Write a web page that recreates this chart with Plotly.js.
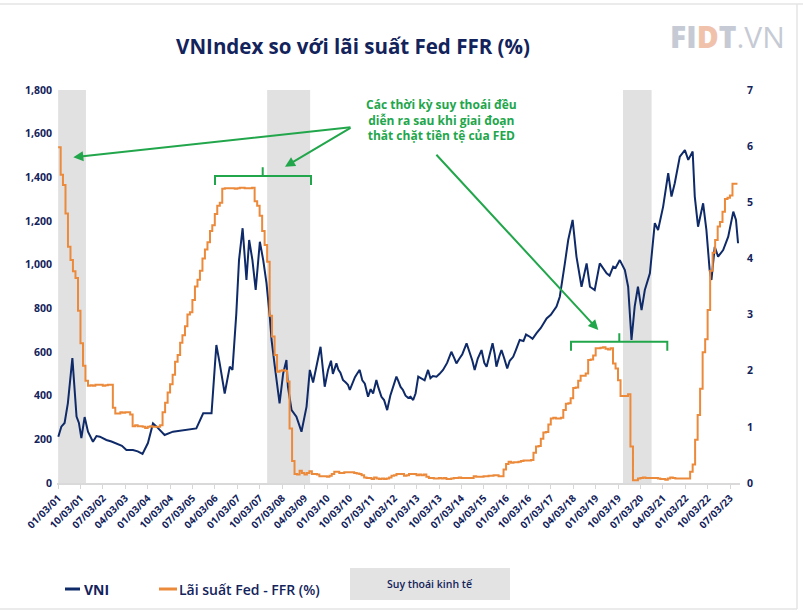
<!DOCTYPE html>
<html>
<head>
<meta charset="utf-8">
<script src="https://cdn.plot.ly/plotly-3.0.1.min.js"></script>
<style>html,body{margin:0;padding:0;background:#fff;}#chart{width:803px;height:613px;}</style>
</head>
<body>
<div id="chart"></div>
<script>
// ---- Data ----
const vniDates = [
'2001-01-03','2001-02-09','2001-03-21','2001-04-30','2001-06-24','2001-07-12','2001-08-14','2001-09-12','2001-10-12','2001-11-21',
'2002-01-01','2002-03-03','2002-04-15','2002-05-26','2002-08-14','2002-10-15','2002-12-16',
'2003-02-20','2003-04-16','2003-07-05','2003-09-01','2003-10-30',
'2004-01-04','2004-03-06','2004-04-19','2004-07-26','2004-11-05',
'2005-03-10','2005-08-18','2005-11-10',
'2006-02-20','2006-04-01','2006-04-20','2006-05-30','2006-07-31','2006-10-01','2006-11-03','2006-12-20',
'2007-01-22','2007-03-07','2007-04-23','2007-05-26','2007-07-05','2007-08-14','2007-10-04','2007-11-14','2007-12-24',
'2008-02-02','2008-02-24','2008-04-04','2008-06-01','2008-07-15','2008-08-24','2008-09-11','2008-10-26','2008-12-24',
'2009-02-24','2009-04-27','2009-06-06','2009-07-16','2009-10-15','2009-12-05',
'2010-01-15','2010-02-20','2010-03-15','2010-04-27','2010-05-20','2010-06-15','2010-07-16','2010-08-20','2010-09-15','2010-10-08','2010-11-10','2010-12-10',
'2011-01-05','2011-02-06','2011-03-10','2011-04-10','2011-05-19','2011-06-20','2011-07-20','2011-08-29','2011-09-20','2011-10-30','2011-12-01',
'2012-01-08','2012-02-15','2012-03-15','2012-04-30','2012-05-20','2012-06-20','2012-07-19','2012-08-20','2012-09-20','2012-10-20','2012-11-21','2012-12-20',
'2013-01-22','2013-03-01','2013-04-10','2013-05-22','2013-06-20','2013-07-20','2013-09-02','2013-10-10','2013-11-21',
'2014-01-10','2014-03-03','2014-04-10','2014-05-04','2014-06-10','2014-07-15','2014-09-05','2014-10-15','2014-11-15','2014-12-13',
'2015-01-20','2015-03-07','2015-04-10','2015-05-08','2015-06-15','2015-07-20','2015-08-15','2015-09-05','2015-10-10','2015-11-06','2015-12-10',
'2016-01-15','2016-02-15','2016-03-28','2016-05-01','2016-06-16','2016-08-01','2016-09-01','2016-10-18','2016-11-20',
'2017-01-08','2017-03-01','2017-05-11','2017-07-01','2017-09-09','2017-10-19','2017-12-20',
'2018-01-30','2018-03-25','2018-05-11','2018-07-12','2018-09-12','2018-10-23','2018-12-20',
'2019-02-20','2019-03-20','2019-05-15','2019-06-20','2019-08-03','2019-09-01','2019-10-23','2019-12-24',
'2020-02-02','2020-03-14','2020-04-22','2020-06-01','2020-07-15','2020-08-24','2020-10-25','2020-12-24',
'2021-02-02','2021-04-05','2021-06-06','2021-07-16','2021-08-25','2021-10-26','2021-12-27',
'2022-02-06','2022-04-01','2022-04-27','2022-06-06','2022-08-07','2022-09-16','2022-10-26','2022-11-17','2022-12-27',
'2023-02-06','2023-04-09','2023-06-10','2023-08-11','2023-09-13','2023-10-08'
];
const vniValues = [
212,258,275,366,572,472,304,275,206,302,
235,189,215,212,197,190,182,
170,151,151,145,133,
183,273,258,220,235,
243,250,319,
319,533,632,550,410,533,518,777,
1021,1167,930,1113,1021,884,1105,1021,915,
762,655,533,365,502,563,441,334,304,
235,350,518,460,624,441,
518,560,500,548,520,505,472,460,450,426,460,485,
500,518,470,455,395,430,410,472,440,395,380,
334,400,430,487,470,440,426,400,390,395,380,410,
487,480,470,518,480,490,487,500,518,
550,601,570,548,570,590,640,600,560,518,
570,609,550,533,590,640,590,533,580,609,570,
525,560,578,610,655,650,680,670,660,
686,710,754,770,808,853,1006,
1113,1205,1037,899,1006,899,884,
1006,990,960,950,991,985,1021,975,
899,655,808,899,792,884,960,1190,
1159,1266,1419,1312,1373,1495,1525,
1480,1518,1312,1174,1281,1159,975,930,1082,
1037,1067,1128,1243,1205,1098
];

// Fed funds rate, monthly, starting January 2001
const ffrStartYear = 2001;
const ffrValues = [
5.98,5.49,5.31,4.80,4.21,3.97,3.77,3.65,3.07,2.49,2.09,1.82,
1.73,1.74,1.73,1.75,1.75,1.75,1.73,1.74,1.75,1.75,1.34,1.24,
1.24,1.26,1.25,1.26,1.26,1.22,1.01,1.03,1.01,1.01,1.00,0.98,
1.00,1.01,1.00,1.00,1.00,1.03,1.26,1.43,1.61,1.76,1.93,2.16,
2.28,2.50,2.63,2.79,3.00,3.04,3.26,3.50,3.62,3.78,4.00,4.16,
4.29,4.49,4.59,4.79,4.94,4.99,5.24,5.25,5.25,5.25,5.25,5.24,
5.25,5.26,5.26,5.25,5.25,5.25,5.26,5.02,4.94,4.76,4.49,4.24,
3.94,2.98,2.61,2.28,1.98,2.00,2.01,2.00,1.81,0.97,0.39,0.16,
0.15,0.22,0.18,0.15,0.18,0.21,0.16,0.16,0.15,0.12,0.12,0.12,
0.11,0.13,0.16,0.20,0.20,0.18,0.18,0.19,0.19,0.19,0.19,0.18,
0.17,0.16,0.14,0.10,0.09,0.09,0.07,0.10,0.08,0.07,0.08,0.07,
0.08,0.10,0.13,0.14,0.16,0.16,0.16,0.13,0.14,0.16,0.16,0.16,
0.14,0.15,0.14,0.15,0.11,0.09,0.09,0.08,0.08,0.09,0.08,0.09,
0.07,0.07,0.08,0.09,0.09,0.10,0.09,0.09,0.09,0.09,0.09,0.12,
0.11,0.11,0.11,0.12,0.12,0.13,0.13,0.14,0.14,0.12,0.12,0.24,
0.34,0.38,0.36,0.37,0.37,0.38,0.39,0.40,0.40,0.40,0.41,0.54,
0.65,0.66,0.79,0.90,0.91,1.04,1.15,1.16,1.15,1.15,1.16,1.30,
1.41,1.42,1.51,1.69,1.70,1.82,1.91,1.91,1.95,2.19,2.20,2.27,
2.40,2.40,2.41,2.42,2.39,2.38,2.40,2.13,2.04,1.83,1.55,1.55,
1.55,1.58,0.65,0.05,0.05,0.08,0.09,0.10,0.09,0.09,0.09,0.09,
0.09,0.08,0.07,0.07,0.06,0.08,0.10,0.09,0.08,0.08,0.08,0.08,
0.08,0.08,0.20,0.33,0.77,1.21,1.68,2.33,2.56,3.08,3.78,4.10,
4.33,4.57,4.65,4.83,5.06,5.08,5.12,5.33,5.33,5.33
];

// Recession periods (grey bands)
const recessionStart = ['2001-01-01','2008-01-01','2019-12-01'];
const recessionEnd   = ['2001-12-07','2009-06-10','2020-11-15'];

const tickDates = ['2001-01-03','2001-10-03','2002-07-03','2003-04-03','2004-01-03','2004-10-03','2005-07-03','2006-04-03',
'2007-01-03','2007-10-03','2008-07-03','2009-04-03','2010-01-03','2010-10-03','2011-07-03','2012-04-03',
'2013-01-03','2013-10-03','2014-07-03','2015-04-03','2016-01-03','2016-10-03','2017-07-03','2018-04-03',
'2019-01-03','2019-10-03','2020-07-03','2021-04-03','2022-01-03','2022-10-03','2023-07-03'];
const tickLabels = ['01/03/01','10/03/01','07/03/02','04/03/03','01/03/04','10/03/04','07/03/05','04/03/06',
'01/03/07','10/03/07','07/03/08','04/03/09','01/03/10','10/03/10','07/03/11','04/03/12',
'01/03/13','10/03/13','07/03/14','04/03/15','01/03/16','10/03/16','07/03/17','04/03/18',
'01/03/19','10/03/19','07/03/20','04/03/21','01/03/22','10/03/22','07/03/23'];
const leftTicks = [0,200,400,600,800,1000,1200,1400,1600,1800];
const rightTicks = [0,1,2,3,4,5,6,7];

// ---- Build ----
const ffrDates = ffrValues.map((v,i)=>{
  const y = ffrStartYear + Math.floor(i/12), m = (i%12)+1;
  return y + '-' + String(m).padStart(2,'0') + '-01';
});

const NAVY = '#0f2a68', ORANGE = '#ec8a3c', GREEN = '#22a64b', TXT = '#13235b';
const FONT = 'Open Sans, Roboto, sans-serif';

const traces = [
  {x: vniDates, y: vniValues, type:'scatter', mode:'lines', name:'VNI',
   line:{color:NAVY, width:2}, yaxis:'y', hoverinfo:'skip'},
  {x: ffrDates, y: ffrValues, type:'scatter', mode:'lines', name:'Lãi suất Fed - FFR (%)',
   line:{color:ORANGE, width:2, shape:'hv'}, yaxis:'y2', hoverinfo:'skip'}
];

const L=57, R=740, T=90, B=483;
const px = x => (x-L)/(R-L);
const py = y => (B-y)/(B-T);

const shapes = recessionStart.map((s,i)=>({
  type:'rect', xref:'x', yref:'paper', x0:s, x1:recessionEnd[i], y0:0, y1:1,
  fillcolor:'#e1e1e1', line:{width:0}, layer:'below'
}));

function bracket(x0,x1,xm,yh,yd,yt){
  return {type:'path', xref:'paper', yref:'paper', line:{color:GREEN, width:2},
    path:`M ${px(x0)},${py(yd)} L ${px(x0)},${py(yh)} L ${px(x1)},${py(yh)} L ${px(x1)},${py(yd)} M ${px(xm)},${py(yh)} L ${px(xm)},${py(yt)}`};
}
shapes.push(bracket(215,311,262.7,176,185,167.3));
shapes.push(bracket(571,667.3,619.3,341.7,350.7,333.3));

// legend marks and frame
shapes.push({type:'line', xref:'paper', yref:'paper', x0:px(65), x1:px(80), y0:py(589), y1:py(589), line:{color:NAVY, width:3}});
shapes.push({type:'line', xref:'paper', yref:'paper', x0:px(159), x1:px(177), y0:py(589), y1:py(589), line:{color:ORANGE, width:3}});
shapes.push({type:'rect', xref:'paper', yref:'paper', x0:px(350), x1:px(510), y0:py(568), y1:py(600), fillcolor:'#e3e3e3', line:{width:0}});
shapes.push({type:'line', xref:'paper', yref:'paper', x0:px(0), x1:px(803), y0:py(4), y1:py(4), line:{color:'#e4e4e4', width:1.5}});
shapes.push({type:'line', xref:'paper', yref:'paper', x0:px(797), x1:px(797), y0:py(4), y1:py(609), line:{color:'#e4e4e4', width:1.5}});
shapes.push({type:'line', xref:'paper', yref:'paper', x0:px(0), x1:px(797), y0:py(609), y1:py(609), line:{color:'#e4e4e4', width:1.5}});

const annotations = [
  {xref:'paper', yref:'paper', x:px(727), y:py(36), xanchor:'center', yanchor:'middle', showarrow:false,
   text:'FI<span style="color:#f1c2ab">D</span>T<span style="font-weight:400">.VN</span>', font:{family:FONT, size:30, color:'#c6cad4', weight:800}},
  {xref:'paper', yref:'paper', x:px(441), y:py(120), xanchor:'center', yanchor:'middle', showarrow:false,
   text:'Các thời kỳ suy thoái đều<br>diễn ra sau khi giai đoạn<br>thắt chặt tiền tệ của FED', align:'center',
   font:{family:FONT, size:12, color:GREEN, weight:700}},
  // arrows
  {xref:'paper', yref:'paper', x:px(73.3), y:py(157.3), ax:278.7, ay:-30.3, text:'', showarrow:true,
   arrowhead:2, arrowsize:1, arrowwidth:2, arrowcolor:GREEN, standoff:0},
  {xref:'paper', yref:'paper', x:px(285), y:py(166.7), ax:67, ay:-39.7, text:'', showarrow:true,
   arrowhead:2, arrowsize:1, arrowwidth:2, arrowcolor:GREEN, standoff:0},
  {xref:'paper', yref:'paper', x:px(598.3), y:py(330), ax:-163.3, ay:-176.7, text:'', showarrow:true,
   arrowhead:2, arrowsize:1, arrowwidth:2, arrowcolor:GREEN, standoff:0},
  // legend texts
  {xref:'paper', yref:'paper', x:px(82), y:py(589), xanchor:'left', yanchor:'middle', showarrow:false,
   text:'VNI', font:{family:FONT, size:14, color:TXT, weight:700}},
  {xref:'paper', yref:'paper', x:px(177), y:py(589), xanchor:'left', yanchor:'middle', showarrow:false,
   text:'Lãi suất Fed - FFR (%)', font:{family:FONT, size:14, color:TXT, weight:600}},
  {xref:'paper', yref:'paper', x:px(430), y:py(584), xanchor:'center', yanchor:'middle', showarrow:false,
   text:'Suy thoái kinh tế', font:{family:FONT, size:10.5, color:TXT, weight:600}}
];

const layout = {
  width:803, height:613,
  margin:{l:L, r:803-R, t:T, b:613-B},
  paper_bgcolor:'#ffffff', plot_bgcolor:'#ffffff',
  showlegend:false,
  title:{text:'VNIndex so với lãi suất Fed FFR (%)', x:353/803, xanchor:'center', xref:'container',
         y:1-47/613, yanchor:'middle', yref:'container',
         font:{family:FONT, size:20.5, color:TXT, weight:700}},
  xaxis:{type:'date', range:['2000-12-18','2023-11-01'], tickvals:tickDates, ticktext:tickLabels,
         tickangle:-45, ticks:'outside', ticklen:4, tickcolor:'#d6d6d6', showline:true, linecolor:'#d9d9d9', linewidth:1.5,
         showgrid:false, zeroline:false, tickfont:{family:FONT, size:10, color:TXT, weight:700}},
  yaxis:{range:[0,1800], tickvals:leftTicks, tickformat:',', showgrid:false, zeroline:false, showline:false,
         ticks:'', ticklabelstandoff:4, tickfont:{family:FONT, size:10.5, color:TXT, weight:700}},
  yaxis2:{range:[0,7], tickvals:rightTicks, overlaying:'y', side:'right', showgrid:false, zeroline:false, showline:false,
          ticks:'', ticklabelstandoff:6, tickfont:{family:FONT, size:10.5, color:TXT, weight:700}},
  shapes:shapes, annotations:annotations
};

Plotly.newPlot('chart', traces, layout, {displayModeBar:false, staticPlot:true});
</script>
</body>
</html>
